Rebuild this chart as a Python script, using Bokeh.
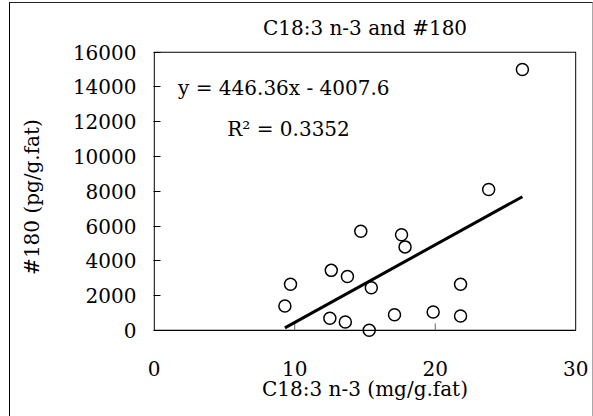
from bokeh.plotting import figure
from bokeh.models import Range1d, FixedTicker, Label, InlineStyleSheet
from bokeh.embed import file_html
from bokeh.resources import INLINE

# ---- data ----
x_vals = [26.2, 23.8, 14.7, 17.6, 17.85, 12.6, 13.75, 9.7, 15.45, 21.8, 9.3, 12.5, 13.6, 15.3, 17.1, 19.85, 21.8]
y_vals = [15000, 8100, 5700, 5500, 4800, 3450, 3100, 2650, 2450, 2650, 1400, 700, 480, 0, 900, 1050, 820]
slope = 446.36
intercept = -4007.6
r_squared = 0.3352
x_ticks = [0, 10, 20, 30]
y_ticks = [0, 2000, 4000, 6000, 8000, 10000, 12000, 14000, 16000]
title_text = "C18:3 n-3 and #180"
x_label = "C18:3 n-3 (mg/g.fat)"
y_label = "#180 (pg/g.fat)"

FONT = "DejaVu Serif"
FS = "20px"

p = figure(width=593, height=416, output_backend="svg", toolbar_location=None,
           x_range=Range1d(-0.05, 30.05), y_range=Range1d(-700, 16040),
           min_border_left=153, min_border_right=17, min_border_top=51, min_border_bottom=74,
           background_fill_color="white", border_fill_color="white")
p.outline_line_color = None
p.grid.visible = False

# outer chart border drawn with CSS (left/top black, right grey)
p.stylesheets = [InlineStyleSheet(css=(
    ":host::after{content:'';position:absolute;left:9px;top:2px;width:584px;height:430px;"
    "box-sizing:border-box;border-left:1.5px solid #000;border-top:1.5px solid #222;"
    "border-right:1px solid #a8a8a8;pointer-events:none;}"
))]

p.title.text = title_text
p.title.align = "center"
p.title.text_font = FONT
p.title.text_font_size = FS
p.title.text_font_style = "normal"
p.title.text_color = "black"
p.title.standoff = 23

# y axis
p.yaxis.ticker = FixedTicker(ticks=y_ticks)
p.yaxis.axis_line_color = None
p.yaxis.major_tick_in = 7
p.yaxis.major_tick_out = 0
p.yaxis.major_tick_line_color = "black"
p.yaxis.minor_tick_line_color = None
p.yaxis.major_label_standoff = 17
p.yaxis.major_label_text_font = FONT
p.yaxis.major_label_text_font_size = FS
p.yaxis.major_label_text_color = "black"
p.yaxis.axis_label = y_label
p.yaxis.axis_label_text_font = FONT
p.yaxis.axis_label_text_font_size = FS
p.yaxis.axis_label_text_font_style = "normal"
p.yaxis.axis_label_text_color = "black"
p.yaxis.axis_label_standoff = 26

# x axis
p.xaxis.ticker = FixedTicker(ticks=x_ticks)
p.xaxis.axis_line_color = None
p.xaxis.major_tick_line_color = None
p.xaxis.minor_tick_line_color = None
p.xaxis.major_label_standoff = 12
p.xaxis.major_label_text_font = FONT
p.xaxis.major_label_text_font_size = FS
p.xaxis.major_label_text_color = "black"
p.xaxis.axis_label = x_label
p.xaxis.axis_label_text_font = FONT
p.xaxis.axis_label_text_font_size = FS
p.xaxis.axis_label_text_font_style = "normal"
p.xaxis.axis_label_text_color = "black"
p.xaxis.axis_label_standoff = -2

# plot-area frame at x=0..30, y=0..16000
p.quad(left=[x_ticks[0]], right=[x_ticks[-1]], bottom=[y_ticks[0]], top=[y_ticks[-1]],
       fill_color=None, line_color="black", line_width=1.2)

# inward x tick marks
tick_len = 400
inner = x_ticks[1:-1]
p.segment(x0=inner, y0=[0] * len(inner), x1=inner, y1=[tick_len] * len(inner),
          line_color="#666666", line_width=1)

# trend line
x_lo, x_hi = min(x_vals), max(x_vals)
p.line([x_lo, x_hi], [slope * x_lo + intercept, slope * x_hi + intercept],
       line_color="black", line_width=3)

# markers
p.scatter(x_vals, y_vals, marker="circle", size=12, fill_color=None,
          line_color="black", line_width=1.5)

# equation labels
p.add_layout(Label(x=1.7, y=13930, text="y = 446.36x - 4007.6", text_baseline="middle",
                   text_font=FONT, text_font_size=FS, text_color="black"))
p.add_layout(Label(x=5.2, y=11580, text="R\u00b2 = %.4f" % r_squared, text_baseline="middle",
                   text_font=FONT, text_font_size=FS, text_color="black"))

open("out.html", "w").write(file_html(p, INLINE))
